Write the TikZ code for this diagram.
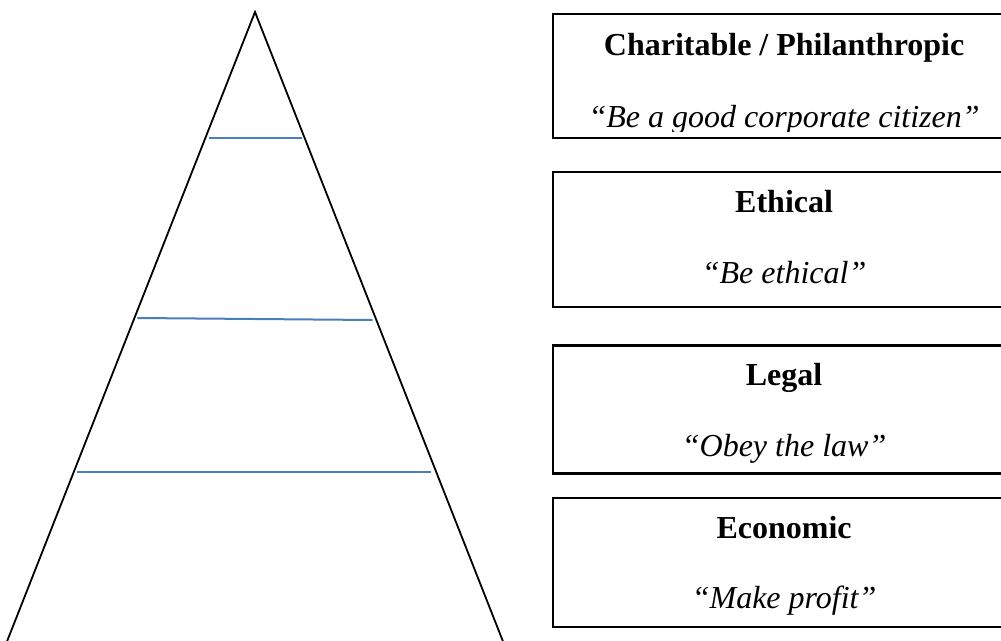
\documentclass[tikz,border=0pt]{standalone}
\usepackage{fontspec}
\setmainfont{Liberation Serif}
\usetikzlibrary{positioning}
\definecolor{rungblue}{RGB}{74,126,187}

\begin{document}
\begin{tikzpicture}[
		x=1pt, y=-1pt,
		side/.style={line width=1.8pt},
		rung/.style={line width=2pt, draw=rungblue},
		layer/.style={draw, rectangle, line width=2.2pt, anchor=north west, minimum width=462pt, inner sep=0pt},
		title/.style={anchor=base, inner sep=0pt, font=\fontsize{32}{38}\selectfont\bfseries},
		motto/.style={anchor=base, inner sep=0pt, font=\fontsize{32}{38}\selectfont\itshape}
		]
		\useasboundingbox (0,0) rectangle (1001,640);
		\clip (0,0) rectangle (1001,640);
		% pyramid
		\coordinate (apex) at (255,12);
		\coordinate (footl) at (5.6,645);
		\coordinate (footr) at (504.4,645);
		\draw[side] (footl) -- (apex) -- (footr);
		\draw[rung] (209,137.5) -- (302,137.5);
		\draw[rung] (137.3,318) -- (372.7,320);
		\draw[rung] (76.7,471.5) -- (430.7,471.5);
		% layers
		\node[layer, minimum height=124pt] (charity) at (552,13) {};
		\node[layer, minimum height=135pt] (ethics) at (552,170.7) {};
		\node[layer, minimum height=128pt] (law) at (552,344.3) {};
		\node[layer, minimum height=129.5pt] (economy) at (552,496.7) {};
		\node[title] (charitytitle) at ([yshift=-42pt]charity.north) {Charitable / Philanthropic};
		\begin{scope}
			\clip (charity.north west) rectangle ([yshift=8pt]charity.south east);
			\node[motto] (charitymotto) at ([yshift=-114pt]charity.north) {“Be a good corporate citizen”};
		\end{scope}
		\node[title] (ethicstitle) at ([yshift=-41.5pt]ethics.north) {Ethical};
		\node[motto] (ethicsmotto) at ([yshift=-112.5pt]ethics.north) {“Be ethical”};
		\node[title] (lawtitle) at ([yshift=-41pt]law.north) {Legal};
		\node[motto] (lawmotto) at ([yshift=-112.5pt]law.north) {“Obey the law”};
		\node[title] (economytitle) at ([yshift=-41.5pt]economy.north) {Economic};
		\node[motto] (economymotto) at ([yshift=-111.5pt]economy.north) {“Make profit”};
\end{tikzpicture}
\end{document}
